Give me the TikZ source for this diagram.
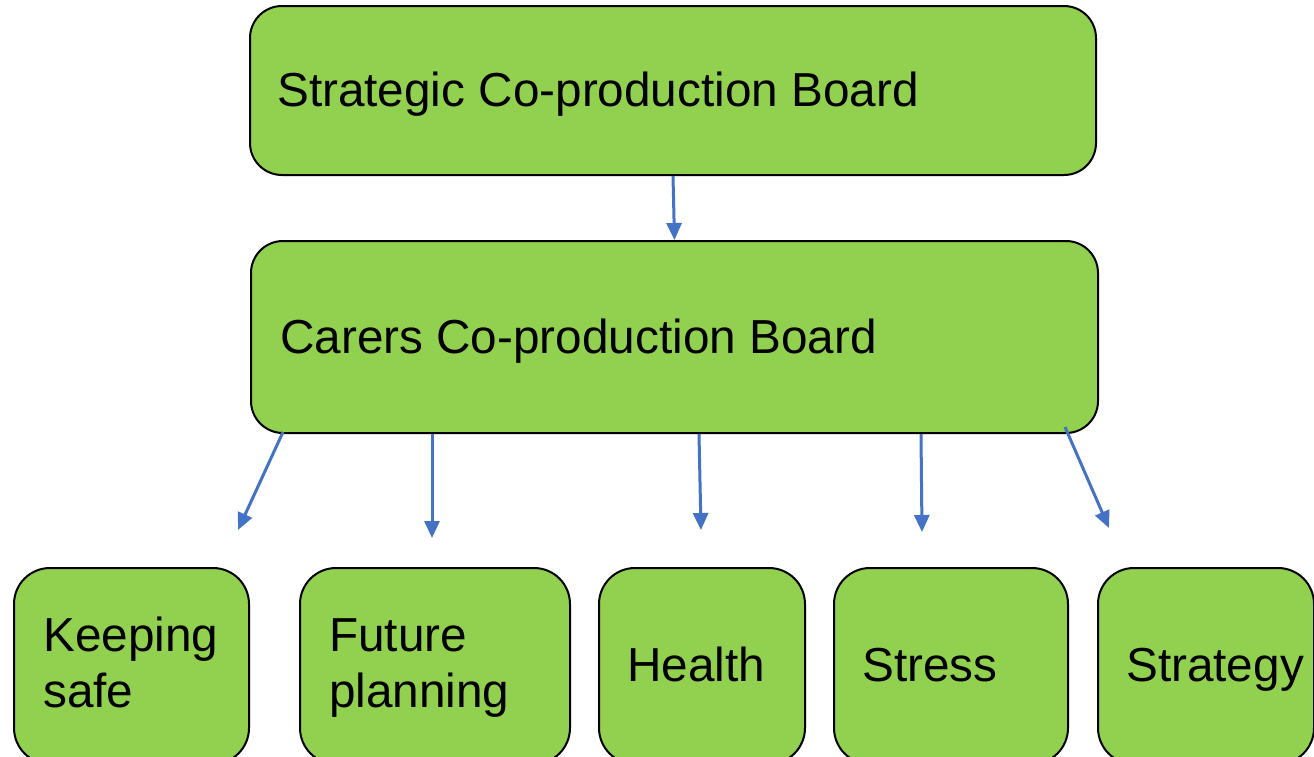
\documentclass[tikz,border=0pt]{standalone}
\usepackage{fontspec}
\setmainfont{Liberation Sans}
\usetikzlibrary{arrows.meta}
\definecolor{boxgreen}{HTML}{92D050}
\definecolor{arrowblue}{HTML}{4472C4}
\tikzset{
  box/.style={draw=black, line width=2pt, fill=boxgreen, rounded corners=#1, inner sep=0pt, anchor=north west},
  lbl/.style={anchor=base west, inner sep=0pt, align=left, font=\fontsize{47.7pt}{56pt}\selectfont},
  conn/.style={draw=arrowblue, line width=3pt, -{Triangle[length=17pt,width=15pt]}}
}
\begin{document}
\begin{tikzpicture}[x=1pt,y=-1pt]
\clip (0,0) rectangle (1314,756);
\fill[white] (0,0) rectangle (1314,756);
% boxes
\node[box=32, minimum width=846pt, minimum height=169pt] (strat) at (249,5) {};
\node[box=32, minimum width=847pt, minimum height=192pt] (carers) at (250,240) {};
\node[box=36, minimum width=235pt, minimum height=196pt] (keep) at (13,567) {};
\node[box=36, minimum width=270pt, minimum height=196pt] (future) at (299,567) {};
\node[box=36, minimum width=206pt, minimum height=196pt] (health) at (598,567) {};
\node[box=36, minimum width=234pt, minimum height=196pt] (stress) at (833,567) {};
\node[box=36, minimum width=216pt, minimum height=196pt] (strategy) at (1097,567) {};
% labels (base = baseline of the last line)
\node[lbl] (stratT) at (277,106) {Strategic Co-production Board};
\node[lbl] (carersT) at (280,353) {Carers Co-production Board};
\node[lbl] (keepT) at (43,707) {Keeping\\safe};
\node[lbl] (futureT) at (329,707) {Future\\planning};
\node[lbl] (healthT) at (627,681) {Health};
\node[lbl] (stressT) at (862,681) {Stress};
\node[lbl] (strategyT) at (1126,681) {Strategy};
% arrow end points
\coordinate (e1) at (238,530);
\coordinate (e2) at (432,538);
\coordinate (e3) at (701,530);
\coordinate (e4) at (922,532);
\coordinate (e5) at (1109,528);
% connectors
\draw[conn] (strat.south) -- (carers.north);
\draw[conn] ([xshift=33pt,yshift=2pt]carers.south west) -- (e1);
\draw[conn] ([xshift=182pt]carers.south west) -- (e2);
\draw[conn] ([xshift=449pt]carers.south west) -- (e3);
\draw[conn] ([xshift=671pt]carers.south west) -- (e4);
\draw[conn] ([xshift=815pt,yshift=7pt]carers.south west) -- (e5);
\end{tikzpicture}
\end{document}
